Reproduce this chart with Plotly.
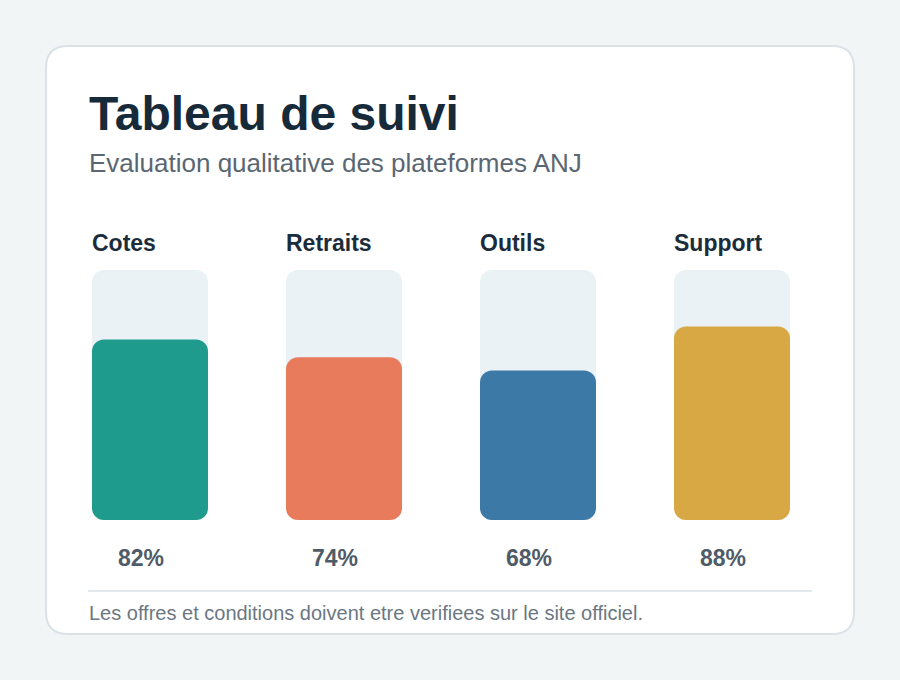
import plotly.graph_objects as go

# ---- data ----
categories = ["Cotes", "Retraits", "Outils", "Support"]
values = [82, 74, 68, 88]
colors = ["#1f9b8e", "#e77b5b", "#3d79a6", "#d8a844"]
title = "Tableau de suivi"
subtitle = "Evaluation qualitative des plateformes ANJ"
footer = "Les offres et conditions doivent etre verifiees sur le site officiel."

# ---- layout geometry (pixels) ----
W, H = 900, 680
ML, MR, MT, MB = 53, 71, 270, 160
PW, PH = W - ML - MR, H - MT - MB
PX_PER_UNIT = 2.2
YTOP = PH / PX_PER_UNIT
FONT = "Liberation Sans, Arial, sans-serif"


def px(p):
    return (p - ML) / PW


def py(p):
    return (H - MB - p) / PH


def rounded_rect(x0, y0, x1, y1, r):
    rx, ry = r / PW, r / PH
    X0, X1 = px(x0), px(x1)
    Yt, Yb = py(y0), py(y1)
    return (
        f"M {X0+rx},{Yt} L {X1-rx},{Yt} Q {X1},{Yt} {X1},{Yt-ry} "
        f"L {X1},{Yb+ry} Q {X1},{Yb} {X1-rx},{Yb} "
        f"L {X0+rx},{Yb} Q {X0},{Yb} {X0},{Yb+ry} "
        f"L {X0},{Yt-ry} Q {X0},{Yt} {X0+rx},{Yt} Z"
    )


fig = go.Figure()
BW = 0.598
fig.add_trace(go.Bar(x=categories, y=[YTOP] * 4, base=[0] * 4, width=BW,
                     marker=dict(color="#eaf2f5", cornerradius=12, line=dict(width=0))))
fig.add_trace(go.Bar(x=categories, y=values, base=[0] * 4, width=BW,
                     marker=dict(color=colors, cornerradius=12, line=dict(width=0))))

shapes = [
    dict(type="path", xref="paper", yref="paper", path=rounded_rect(46, 46, 854, 634, 22),
         fillcolor="#ffffff", line=dict(color="#dae2e7", width=2), layer="below"),
    dict(type="line", xref="paper", yref="paper", x0=px(88), x1=px(812), y0=py(591), y1=py(591),
         line=dict(color="#d8e1e7", width=1.5), layer="below"),
]

annotations = [
    dict(text=f"<b>{title}</b>", x=px(87), y=py(113), xref="paper", yref="paper",
         xanchor="left", yanchor="middle", showarrow=False,
         font=dict(family=FONT, size=48, color="#172a3a")),
    dict(text=subtitle, x=px(87), y=py(163), xref="paper", yref="paper",
         xanchor="left", yanchor="middle", showarrow=False,
         font=dict(family=FONT, size=26, color="#5a6772")),
    dict(text=footer, x=px(87), y=py(613), xref="paper", yref="paper",
         xanchor="left", yanchor="middle", showarrow=False,
         font=dict(family=FONT, size=20, color="#6b7782")),
]
for c, v in zip(categories, values):
    annotations.append(dict(text=f"<b>{c}</b>", x=c, xref="x", xshift=-60,
                            y=py(243), yref="paper", xanchor="left", yanchor="middle",
                            showarrow=False, font=dict(family=FONT, size=23, color="#1b2c3c")))
    annotations.append(dict(text=f"<b>{v}%</b>", x=c, xref="x", xshift=-9,
                            y=py(558), yref="paper", xanchor="center", yanchor="middle",
                            showarrow=False, font=dict(family=FONT, size=23, color="#4f5b67")))

fig.update_layout(
    width=W, height=H,
    margin=dict(l=ML, r=MR, t=MT, b=MB, pad=0),
    paper_bgcolor="#f1f5f6", plot_bgcolor="rgba(0,0,0,0)",
    barmode="overlay", showlegend=False, hovermode=False,
    xaxis=dict(range=[-0.5, 3.5], visible=False, fixedrange=True),
    yaxis=dict(range=[0, YTOP], visible=False, fixedrange=True),
    shapes=shapes, annotations=annotations,
    font=dict(family=FONT),
)

fig.write_html("out.html", config={"displayModeBar": False})
